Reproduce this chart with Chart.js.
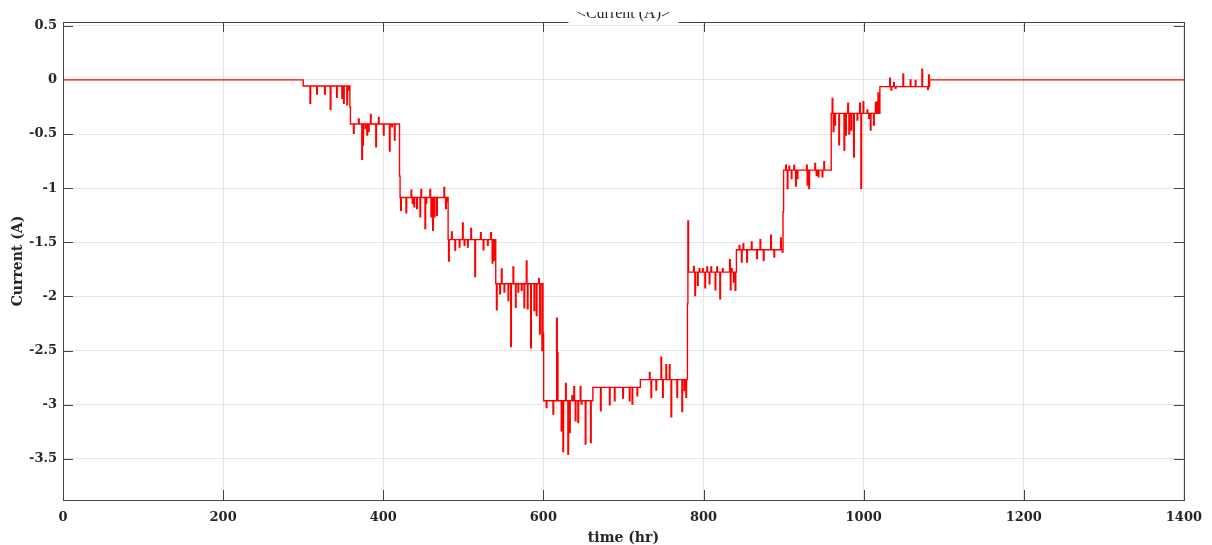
<!DOCTYPE html>
<html>
<head>
<meta charset="utf-8">
<title>Current (A)</title>
<script src="https://cdn.jsdelivr.net/npm/chart.js@4.4.1/dist/chart.umd.min.js"></script>
<style>
  html, body { margin: 0; padding: 0; background: #ffffff; }
  #wrap { width: 1212px; height: 545px; }
</style>
</head>
<body>
<div id="wrap"><canvas id="currentChart" width="1212" height="545"></canvas></div>
<script>
// Step levels: time (hr) where each level starts, and the current (A) it holds
const levelTimes = [0, 300, 359, 421, 481, 540.5, 600.3, 661.8, 721.1, 781.3, 841.1, 900, 959.5, 1020.3, 1082.3];
const levelValues = [0, -0.056, -0.407, -1.086, -1.475, -1.883, -2.963, -2.84, -2.768, -1.775, -1.568, -0.833, -0.309, -0.062, 0];

// Short spikes (time in hr, current in A), one row per level
const spikeTimes = [
  308.5, 316.8, 326.7, 333.8, 341.7, 348.3, 350.4, 354.5, 356.6, 358.3,
  362.8, 369.1, 373.2, 374.5, 377.4, 379.5, 381.5, 384.0, 390.7, 394.0, 400.2, 407.7, 410.6, 413.9, 420.3,
  421.7, 428.4, 434.7, 436.3, 438.4, 441.7, 445.9, 447.1, 452.1, 453.4, 458.3, 459.6, 461.7, 463.7, 466.7, 475.8, 477.9, 479.9,
  481.6, 485.3, 489.5, 494.9, 499.0, 501.1, 505.3, 509.4, 514.4, 521.5, 524.8, 530.2, 534.3, 536.0, 538.5,
  541.4, 545.5, 547.6, 550.9, 555.9, 559.2, 562.1, 565.1, 568.3, 572.5, 575.8, 578.7, 580.0, 584.1, 588.3, 591.2, 594.1, 595.3, 598.2, 599.5,
  603.6, 612.0, 616.5, 617.4, 622.3, 624.4, 627.7, 630.6, 632.7, 635.6, 638.1, 639.8, 643.1, 646.0, 647.3, 652.3, 658.9,
  671.3, 682.5, 688.7, 699.1, 707.4, 710.8, 717.0,
  732.4, 734.4, 740.6, 746.9, 748.9, 753.1, 757.3, 759.4, 766.8, 773.0, 775.9, 778.0, 779.9, 780.5,
  787.6, 789.2, 792.5, 794.6, 798.8, 801.7, 804.2, 807.1, 809.2, 814.5, 816.6, 820.4, 823.7, 832.6, 833.5, 834.9, 837.4, 839.5,
  844.5, 847.4, 849.4, 854.0, 859.8, 866.5, 870.6, 874.8, 883.9, 888.0, 896.3, 898.4, 899.3,
  902.6, 904.6, 906.7, 909.6, 912.9, 915.0, 917.1, 928.7, 929.5, 931.6, 939.1, 940.8, 943.3, 948.2, 950.3,
  960.7, 962.0, 964.0, 969.0, 975.5, 977.6, 980.2, 981.6, 984.3, 987.5, 991.8, 995.1, 996.6, 999.3, 1004.3, 1006.4, 1008.4, 1012.4, 1014.7, 1016.7, 1018.0, 1019.3,
  1032.5, 1034.2, 1037.5, 1039.6, 1049.1, 1058.2, 1064.5, 1072.8, 1079.9, 1081.1
];
const spikeValues = [
  -0.216, -0.13, -0.13, -0.272, -0.16, -0.17, -0.216, -0.23, -0.093, -0.25,
  -0.494, -0.361, -0.734, -0.602, -0.448, -0.509, -0.478, -0.318, -0.617, -0.346, -0.509, -0.657, -0.432, -0.556, -0.889,
  -1.204, -1.228, -1.019, -1.142, -1.173, -1.188, -1.265, -1.012, -1.373, -1.142, -1.012, -1.265, -1.389, -1.265, -1.25, -0.994, -1.188, -1.127,
  -1.673, -1.404, -1.574, -1.543, -1.321, -1.528, -1.543, -1.373, -1.815, -1.41, -1.568, -1.528, -1.41, -1.691, -1.667,
  -2.123, -1.975, -1.747, -1.96, -2.037, -2.463, -1.728, -2.099, -1.96, -1.944, -2.105, -1.673, -2.114, -2.475, -2.13, -2.176, -1.836, -2.346, -2.5, -2.34,
  -3.025, -3.086, -2.201, -2.52, -3.241, -3.432, -2.803, -3.457, -3.256, -2.917, -2.833, -3.148, -3.164, -2.833, -2.994, -3.364, -3.349,
  -3.056, -3.0, -2.963, -2.938, -2.963, -2.994, -2.917,
  -2.701, -2.932, -2.864, -2.562, -2.932, -2.63, -2.63, -3.111, -2.932, -3.062, -2.87, -2.932, -2.068, -1.302,
  -1.722, -1.991, -1.898, -1.744, -1.744, -1.92, -1.728, -1.883, -1.728, -1.938, -1.728, -2.022, -1.744, -1.66, -1.938, -1.744, -1.867, -1.944,
  -1.528, -1.682, -1.512, -1.682, -1.497, -1.651, -1.475, -1.667, -1.435, -1.636, -1.46, -1.59, -1.219,
  -0.787, -1.003, -0.796, -0.91, -0.787, -0.981, -0.91, -0.787, -0.972, -1.003, -0.772, -0.88, -0.895, -0.895, -0.756,
  -0.17, -0.478, -0.417, -0.6, -0.65, -0.509, -0.216, -0.5, -0.463, -0.71, -0.37, -0.216, -1.003, -0.201, -0.278, -0.355, -0.463, -0.417, -0.21, -0.201, -0.12, -0.123,
  0.015, -0.093, -0.025, -0.077, 0.056, 0.0, -0.006, 0.099, -0.086, 0.046
];

const xTicks = [0, 200, 400, 600, 800, 1000, 1200, 1400];
const yTicks = [0.5, 0, -0.5, -1, -1.5, -2, -2.5, -3, -3.5];
const xLimits = [0, 1400];
const yLimits = [-3.88, 0.535];

const titleText = '<Current (A)>';
const xLabel = 'time (hr)';
const yLabel = 'Current (A)';

const SPIKE_WIDTH = 0.8; // hr a spike sample is held before the trace returns
const tickFont = { family: '"DejaVu Serif", serif', size: 13, weight: 'bold' };
const labelFont = { family: '"DejaVu Serif", serif', size: 14, weight: 'bold' };

/**
 * Level in force at a given time
 * @param {number} t - time in hr
 * @returns {number} current in A
 */
function levelAt(t) {
  let v = levelValues[0];
  for (let i = 0; i < levelTimes.length; i++) {
    if (levelTimes[i] <= t) v = levelValues[i];
  }
  return v;
}

/**
 * Merge levels and spikes into one sample-and-hold trace
 * @returns {Array} points {x, y}
 */
function buildTrace() {
  const events = [];
  levelTimes.forEach((t, i) => events.push({ t: t, v: levelValues[i], spike: false }));
  spikeTimes.forEach((t, i) => events.push({ t: t, v: spikeValues[i], spike: true }));
  events.sort((a, b) => a.t - b.t);

  const points = [];
  events.forEach((e, i) => {
    points.push({ x: e.t, y: e.v });
    const next = events[i + 1];
    if (e.spike && (!next || next.t > e.t + SPIKE_WIDTH)) {
      points.push({ x: e.t + SPIKE_WIDTH, y: levelAt(e.t) });
    }
  });
  points.push({ x: xLimits[1], y: levelAt(xLimits[1]) });
  return points;
}

// Box and inward tick marks go under the trace; the clipped title tab goes on top
const framePlugin = {
  id: 'frame',
  beforeDatasetsDraw(chart) {
    const { ctx, chartArea: a, scales } = chart;
    const tickLen = 10;
    const leftEdge = levelAt(xLimits[0]);
    const rightEdge = levelAt(xLimits[1]);
    ctx.save();
    ctx.strokeStyle = '#444444';
    ctx.lineWidth = 1;
    ctx.beginPath();
    xTicks.forEach((v) => {
      const px = Math.round(scales.x.getPixelForValue(v)) + 0.5;
      ctx.moveTo(px, a.bottom);
      ctx.lineTo(px, a.bottom - tickLen);
      ctx.moveTo(px, a.top);
      ctx.lineTo(px, a.top + tickLen);
    });
    yTicks.forEach((v) => {
      const py = Math.round(scales.y.getPixelForValue(v)) + 0.5;
      // the trace runs along the box edge here and hides the tick
      if (v !== leftEdge) {
        ctx.moveTo(a.left, py);
        ctx.lineTo(a.left + tickLen, py);
      }
      if (v !== rightEdge) {
        ctx.moveTo(a.right, py);
        ctx.lineTo(a.right - tickLen, py);
      }
    });
    ctx.stroke();
    ctx.strokeRect(Math.round(a.left) + 0.5, Math.round(a.top) + 0.5,
      Math.round(a.right - a.left), Math.round(a.bottom - a.top));
    ctx.restore();
  },
  afterDraw(chart) {
    const { ctx, chartArea: a } = chart;
    const cx = (a.left + a.right) / 2;
    ctx.save();
    ctx.fillStyle = '#ffffff';
    ctx.fillRect(cx - 55, 0, 110, a.top + 1.5);
    ctx.beginPath();
    ctx.rect(cx - 55, 12, 110, a.top);
    ctx.clip();
    ctx.fillStyle = '#262626';
    ctx.font = '16px "Liberation Serif", serif';
    ctx.textAlign = 'center';
    ctx.textBaseline = 'alphabetic';
    ctx.fillText(titleText, cx, 18);
    ctx.restore();
  }
};

function setupChart() {
  const canvas = document.getElementById('currentChart');
  const ctx = canvas.getContext('2d');

  return new Chart(ctx, {
    type: 'line',
    data: {
      datasets: [
        {
          label: yLabel,
          data: buildTrace(),
          borderColor: '#ff0000',
          borderWidth: 1.4,
          pointRadius: 0,
          stepped: true,
          fill: false
        }
      ]
    },
    options: {
      responsive: false,
      animation: false,
      devicePixelRatio: 1,
      layout: { padding: { top: 22, right: 25, left: 0, bottom: 0 } },
      plugins: {
        legend: { display: false },
        tooltip: { enabled: false }
      },
      scales: {
        x: {
          type: 'linear',
          min: xLimits[0],
          max: xLimits[1],
          afterBuildTicks: (scale) => { scale.ticks = xTicks.map((v) => ({ value: v })); },
          afterFit: (scale) => { scale.height = 45; },
          border: { display: false },
          grid: { color: '#e4e4e4', lineWidth: 1, drawTicks: false },
          ticks: {
            color: '#262626',
            font: tickFont,
            padding: 10,
            maxRotation: 0,
            callback: (v) => String(v)
          },
          title: {
            display: true,
            text: xLabel,
            color: '#262626',
            font: labelFont,
            padding: { top: 0, bottom: -2 }
          }
        },
        y: {
          type: 'linear',
          min: yLimits[0],
          max: yLimits[1],
          afterBuildTicks: (scale) => { scale.ticks = yTicks.map((v) => ({ value: v })); },
          afterFit: (scale) => { scale.width = 63; },
          border: { display: false },
          grid: { color: '#e4e4e4', lineWidth: 1, drawTicks: false },
          ticks: {
            color: '#262626',
            font: tickFont,
            padding: 6,
            callback: (v) => String(v)
          },
          title: {
            display: true,
            text: yLabel,
            color: '#262626',
            font: labelFont,
            padding: { top: 10, bottom: 0 }
          }
        }
      }
    },
    plugins: [framePlugin]
  });
}

setupChart();
</script>
</body>
</html>
